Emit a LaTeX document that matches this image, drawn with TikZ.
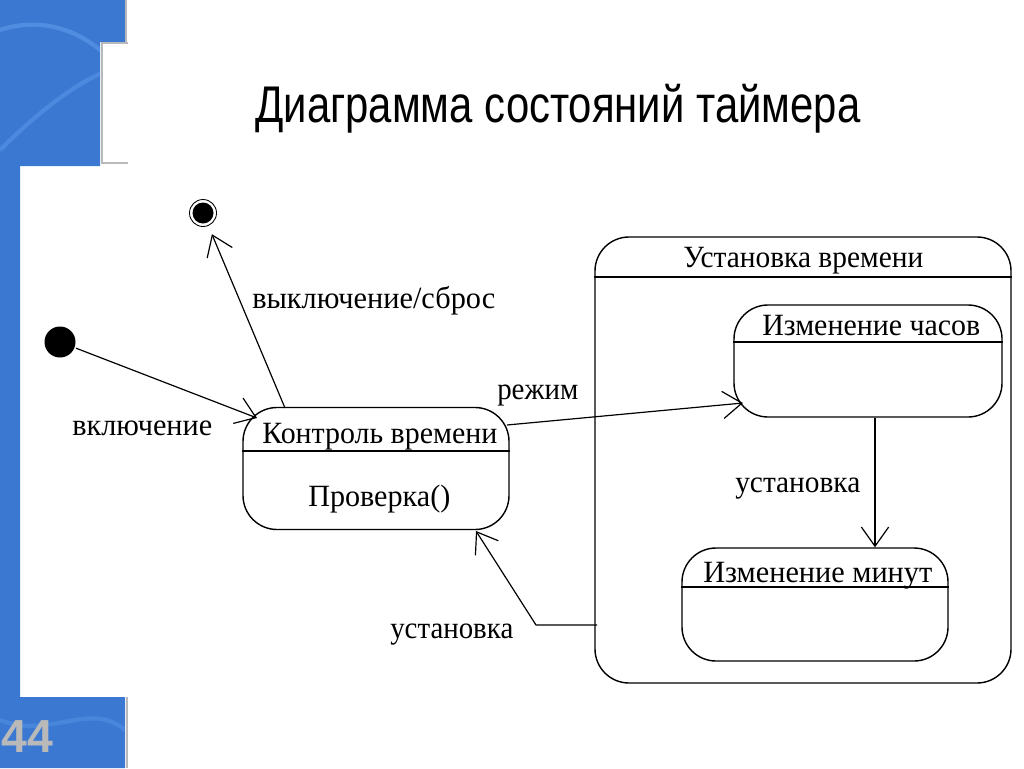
\documentclass[tikz,border=0pt]{standalone}
\usepackage{fontspec}
\setmainfont{Liberation Serif}
\newfontfamily\titlefont{Liberation Sans}
\usetikzlibrary{arrows.meta}
\definecolor{slideblue}{RGB}{58,120,210}
\definecolor{slidelight}{RGB}{95,155,235}
\definecolor{edgegrey}{RGB}{185,185,185}
\newcommand{\fitw}[2]{\resizebox{#1}{\height}{#2}}
\begin{document}
\begin{tikzpicture}[x=0.25mm,y=-0.25mm,
  state/.style={draw, line width=1pt, rounded corners=8.5mm, inner sep=0pt},
  arr/.style={line width=0.85pt, -{Straight Barb[length=4.8mm,width=6.8mm,line width=0.85pt]}},
  lbl/.style={inner sep=0pt, font=\fontsize{22}{26}\selectfont}]

\useasboundingbox (0,0) rectangle (1024,768);
\fill[white] (0,0) rectangle (1024,768);
% slide background band
\fill[slideblue] (0,0) -- (125,0) -- (125,42) -- (100,42) -- (100,166) -- (20,166) -- (20,697) -- (125,697) -- (125,768) -- (0,768) -- cycle;
\begin{scope}
  \clip (0,0) -- (125,0) -- (125,42) -- (100,42) -- (100,166) -- (20,166) -- (20,697) -- (125,697) -- (125,768) -- (0,768) -- cycle;
  \draw[slidelight, line width=3pt, opacity=0.6] (0,30) .. controls (60,10) and (110,50) .. (125,80);
  \draw[slidelight, line width=3pt, opacity=0.5] (0,150) .. controls (40,110) and (80,80) .. (110,70);
  \draw[slidelight, line width=3pt, opacity=0.4] (0,720) .. controls (50,740) and (90,700) .. (125,730);
\end{scope}
\draw[edgegrey, line width=2pt] (128,43) -- (102,43) -- (102,163) -- (128,163);
\draw[edgegrey, line width=2pt] (126,0) -- (126,42);
\draw[edgegrey, line width=2pt] (127,697) -- (127,768);

% title and slide number
\node[anchor=base west, inner sep=0pt, font=\titlefont\fontsize{36.7}{40}\selectfont] (title) at (255,122) {\fitw{151.25mm}{Диаграмма состояний таймера}};
\node[anchor=base west, inner sep=0pt, text=edgegrey, font=\titlefont\bfseries\fontsize{33}{36}\selectfont] (num) at (1,752) {44};

% pseudo states
\node[circle, fill=black, minimum size=31*0.25mm, inner sep=0pt] (init) at (60,342) {};
\node[circle, draw, line width=0.6pt, minimum size=27*0.25mm, inner sep=0pt] (fin) at (203,213) {};
\node[circle, fill=black, minimum size=21*0.25mm, inner sep=0pt] (finin) at (203,213) {};

% states
\node[state, minimum width=266*0.25mm, minimum height=122*0.25mm] (ctl) at (376,468.5) {};
\draw[line width=1pt] (ctl.west |- 0,451) -- (ctl.east |- 0,451);
\node[state, minimum width=416*0.25mm, minimum height=446*0.25mm] (comp) at (803,460) {};
\draw[line width=1pt] (comp.west |- 0,277) -- (comp.east |- 0,277);
\node[state, minimum width=268*0.25mm, minimum height=112*0.25mm] (hrs) at (868,361) {};
\draw[line width=1pt] (hrs.west |- 0,342) -- (hrs.east |- 0,342);
\node[state, minimum width=266*0.25mm, minimum height=113*0.25mm] (mins) at (815,604.5) {};
\draw[line width=1pt] (mins.west |- 0,587) -- (mins.east |- 0,587);

% state texts
\node[lbl, anchor=base west] (ctlt) at (262,443) {\fitw{58.75mm}{Контроль времени}};
\node[lbl, anchor=base west] (ctla) at (308,506) {\fitw{35.5mm}{Проверка()}};
\node[lbl, anchor=base west] (compt) at (683,267) {\fitw{60mm}{Установка времени}};
\node[lbl, anchor=base west] (hrst) at (762,335) {\fitw{54.5mm}{Изменение часов}};
\node[lbl, anchor=base west] (minst) at (703,582) {\fitw{57.25mm}{Изменение минут}};

% transitions
\coordinate (ctltop) at (285,408);
\coordinate (ctlin) at (257,418);
\coordinate (ctlout) at (507,425);
\coordinate (ctlret) at (476,531);
\coordinate (hrsin) at (743,403);
\coordinate (compout) at (597,625);
\coordinate (bend) at (536,625);

\draw[arr, shorten <=1pt] (init) -- (ctlin);
\draw[arr, shorten >=9*0.25mm] (ctltop) -- (fin);
\draw[arr] (ctlout) -- (hrsin);
\draw[arr] (hrs.south -| 875,0) -- (mins.north -| 875,0);
\draw[arr, line join=miter] (compout) -- (bend) -- (ctlret);

% transition labels
\node[lbl, anchor=base west] (l1) at (72,435) {\fitw{35mm}{включение}};
\node[lbl, anchor=base west] (l2) at (252,308) {\fitw{60.75mm}{выключение/сброс}};
\node[lbl, anchor=base west] (l3) at (497,399) {\fitw{20.25mm}{режим}};
\node[lbl, anchor=base west] (l4) at (735,492) {\fitw{31.25mm}{установка}};
\node[lbl, anchor=base west] (l5) at (390,638) {\fitw{30.75mm}{установка}};
\end{tikzpicture}
\end{document}
